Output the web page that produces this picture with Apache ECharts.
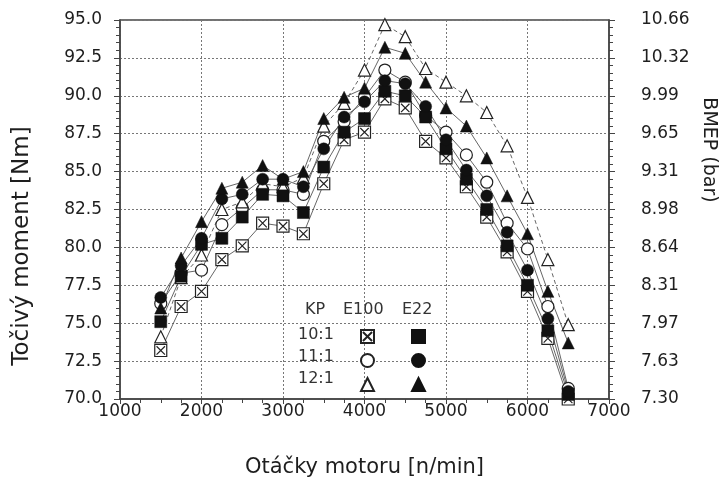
<!DOCTYPE html>
<html>
<head>
<meta charset="utf-8">
<script src="https://cdn.jsdelivr.net/npm/echarts@6/dist/echarts.min.js"></script>
<style>
  html, body { margin: 0; padding: 0; background: #fff; }
  #chart { width: 723px; height: 483px; }
</style>
</head>
<body>
<div id="chart"></div>
<script>
// engine speed [n/min]
const rpm = [1500, 1750, 2000, 2250, 2500, 2750, 3000, 3250, 3500, 3750, 4000,
             4250, 4500, 4750, 5000, 5250, 5500, 5750, 6000, 6250, 6500];

// torque [Nm] per compression ratio (KP) and fuel
const e100_10 = [73.2, 76.1, 77.1, 79.2, 80.1, 81.6, 81.4, 80.9, 84.2, 87.1, 87.6,
                 89.8, 89.2, 87.0, 85.9, 84.0, 82.0, 79.7, 77.1, 74.0, 70.0];
const e22_10  = [75.1, 78.1, 80.2, 80.6, 82.0, 83.5, 83.4, 82.3, 85.3, 87.6, 88.5,
                 90.3, 90.0, 88.6, 86.5, 84.5, 82.5, 80.1, 77.5, 74.5, 70.3];
const e100_11 = [76.3, 78.3, 78.5, 81.5, 82.6, 83.8, 83.8, 83.5, 87.0, 88.3, 89.9,
                 91.7, 90.9, 88.7, 87.6, 86.1, 84.3, 81.6, 79.9, 76.1, 70.7];
const e22_11  = [76.7, 78.8, 80.6, 83.2, 83.5, 84.5, 84.5, 84.0, 86.5, 88.6, 89.6,
                 91.0, 90.8, 89.3, 87.1, 85.1, 83.4, 81.0, 78.5, 75.3, 70.5];
const e100_12 = [74.1, 78.0, 79.5, 82.5, 83.0, 84.2, 84.0, 84.6, 88.0, 89.5, 91.7,
                 94.7, 93.9, 91.8, 90.9, 90.0, 88.9, 86.7, 83.3, 79.2, 74.9];
const e22_12  = [76.0, 79.3, 81.7, 83.9, 84.3, 85.4, 84.5, 85.0, 88.5, 89.9, 90.5,
                 93.2, 92.8, 90.9, 89.2, 88.0, 85.9, 83.4, 80.9, 77.1, 73.7];

// tick labels of the right-hand BMEP axis
const bmepLabels = ['7.30', '7.63', '7.97', '8.31', '8.64', '8.98',
                    '9.31', '9.65', '9.99', '10.32', '10.66'];

// legend table texts
const kpLabels = ['10:1', '11:1', '12:1'];
const fuelLabels = ['E100', 'E22'];

const FONT = '"DejaVu Sans", Verdana, sans-serif';
const INK = '#1e1e1e';
const crossSquare = 'path://M0,0H10V10H0Z M1.5,1.5L8.5,8.5 M8.5,1.5L1.5,8.5';

function pairs(ys) { return rpm.map((x, i) => [x, ys[i]]); }

function makeSeries(name, ys, symbol, filled, dashed) {
  return {
    name: name,
    type: 'line',
    data: pairs(ys),
    symbol: symbol,
    symbolSize: 12,
    showSymbol: true,
    lineStyle: { color: '#555', width: 0.9, type: dashed ? [4, 3] : 'solid' },
    itemStyle: filled
      ? { color: '#111', borderColor: '#111', borderWidth: 0.5 }
      : { color: '#fff', borderColor: '#222', borderWidth: 1.2 },
    emphasis: { disabled: true },
    animation: false
  };
}

const series = [
  makeSeries('E100 10:1', e100_10, crossSquare, false, false),
  makeSeries('E100 11:1', e100_11, 'circle', false, false),
  makeSeries('E100 12:1', e100_12, 'triangle', false, true),
  makeSeries('E22 10:1', e22_10, 'rect', true, false),
  makeSeries('E22 11:1', e22_11, 'circle', true, false),
  makeSeries('E22 12:1', e22_12, 'triangle', true, false)
];

const gridLine = { show: true, lineStyle: { color: '#777', type: [2, 2], width: 1 } };
const axisLine = { show: true, lineStyle: { color: '#444', width: 1.5 } };

function legendColumn(fuel, left, icons) {
  return {
    show: true,
    orient: 'vertical',
    left: left,
    top: 329,
    padding: 0,
    itemGap: 9,
    itemWidth: 13,
    itemHeight: 13,
    selectedMode: false,
    formatter: () => '',
    textStyle: { fontSize: 10, lineHeight: 13 },
    data: kpLabels.map((kp, i) => ({ name: fuel + ' ' + kp, icon: icons[i] }))
  };
}

const tickFont = { fontFamily: FONT, fontSize: 17, color: INK };
const legendFont = '16px ' + FONT;

const option = {
  backgroundColor: '#fff',
  animation: false,
  grid: {
    left: 120, right: 114, top: 20, bottom: 83,
    show: true, borderColor: '#444', borderWidth: 1.5, backgroundColor: 'transparent'
  },
  xAxis: {
    type: 'value', min: 1000, max: 7000, interval: 1000,
    name: 'Otáčky motoru [n/min]', nameLocation: 'middle', nameGap: 58,
    nameTextStyle: { fontFamily: FONT, fontSize: 21, color: INK },
    axisLine: axisLine,
    axisTick: { show: true, inside: false, length: 5, lineStyle: { color: '#444' } },
    minorTick: { show: true, splitNumber: 4, length: 4, lineStyle: { color: '#444' } },
    axisLabel: Object.assign({ margin: 4, formatter: v => String(v) }, tickFont),
    splitLine: gridLine
  },
  yAxis: [
    {
      type: 'value', min: 70, max: 95, interval: 2.5, position: 'left',
      axisLine: axisLine,
      axisTick: { show: true, length: 6, lineStyle: { color: '#444' } },
      minorTick: { show: true, splitNumber: 5, length: 4, lineStyle: { color: '#444' } },
      axisLabel: Object.assign({ margin: 18, formatter: v => v.toFixed(1) }, tickFont),
      splitLine: gridLine
    },
    {
      type: 'value', min: 70, max: 95, interval: 2.5, position: 'right',
      axisLine: axisLine,
      axisTick: { show: true, length: 6, lineStyle: { color: '#444' } },
      minorTick: { show: true, splitNumber: 5, length: 4, lineStyle: { color: '#444' } },
      axisLabel: Object.assign({ margin: 32,
                   formatter: v => bmepLabels[Math.round((v - 70) / 2.5)] }, tickFont),
      splitLine: { show: false }
    }
  ],
  legend: [
    legendColumn('E100', 360, [crossSquare, 'circle', 'triangle']),
    legendColumn('E22', 411, ['rect', 'circle', 'triangle'])
  ],
  graphic: [
    { type: 'text', left: 305, top: 302, style: { text: 'KP', font: legendFont, fill: '#333' } },
    { type: 'text', left: 343, top: 302, style: { text: fuelLabels[0], font: legendFont, fill: '#333' } },
    { type: 'text', left: 402, top: 302, style: { text: fuelLabels[1], font: legendFont, fill: '#333' } },
    { type: 'text', left: 298, top: 327, style: { text: kpLabels[0], font: legendFont, fill: '#333' } },
    { type: 'text', left: 298, top: 349, style: { text: kpLabels[1], font: legendFont, fill: '#333' } },
    { type: 'text', left: 298, top: 371, style: { text: kpLabels[2], font: legendFont, fill: '#333' } },
    { type: 'text', x: 22, y: 246, rotation: Math.PI / 2,
      style: { text: 'Točivý moment [Nm]', font: '23px ' + FONT, fill: INK,
               align: 'center', verticalAlign: 'middle' } },
    { type: 'text', x: 709, y: 150, rotation: -Math.PI / 2,
      style: { text: 'BMEP (bar)', font: '19px ' + FONT, fill: INK,
               align: 'center', verticalAlign: 'middle' } }
  ],
  series: series
};

const chart = echarts.init(document.getElementById('chart'), null, { renderer: 'canvas' });
chart.setOption(option);
</script>
</body>
</html>
